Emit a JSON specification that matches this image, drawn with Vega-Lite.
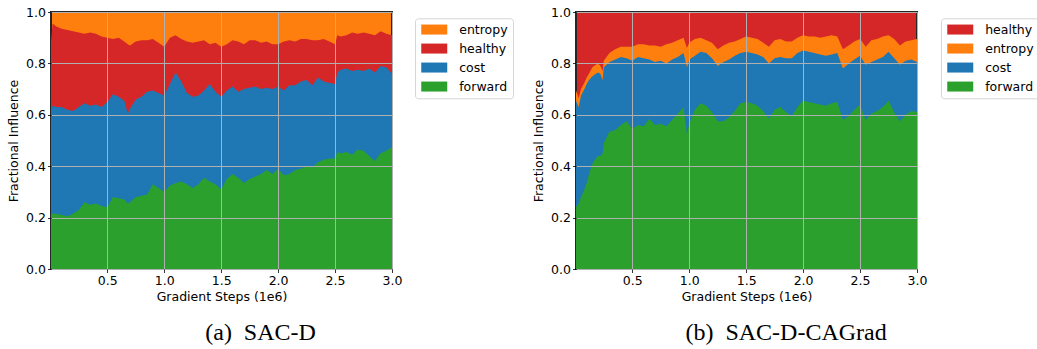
{
  "$schema": "https://vega.github.io/schema/vega-lite/v6.json",
  "padding": {"left": 6, "top": 5, "right": 0, "bottom": 0},
  "spacing": 16,
  "config": {
    "font": "DejaVu Sans",
    "axis": {"labelFont": "DejaVu Sans", "labelFontSize": 12.5, "labelColor": "#000", "titleFont": "DejaVu Sans", "titleFontSize": 12.5, "titleFontWeight": "normal", "titleColor": "#000", "tickColor": "#000", "tickSize": 3.5, "tickWidth": 0.8, "domain": false, "grid": true, "gridColor": "#b0b0b0", "gridWidth": 1, "labelFlush": false, "labelOverlap": false, "zindex": 1},
    "legend": {"padding": 5, "strokeColor": "#d5d5d5", "fillColor": "#ffffff", "cornerRadius": 3, "symbolSize": 100, "symbolStrokeWidth": 0, "symbolOpacity": 1, "labelFont": "DejaVu Sans", "labelFontSize": 12.5, "labelColor": "#000", "labelOffset": 26.7, "rowPadding": 6}
  },
  "resolve": {"scale": {"color": "independent", "x": "independent", "y": "independent"}, "legend": {"color": "independent"}},
  "datasets": {
    "a": [
      {"s": 0.006, "f": 0.21, "c": 0.62, "h": 0.885},
      {"s": 0.02, "f": 0.215, "c": 0.635, "h": 0.955},
      {"s": 0.05, "f": 0.215, "c": 0.63, "h": 0.945},
      {"s": 0.10, "f": 0.21, "c": 0.63, "h": 0.935},
      {"s": 0.15, "f": 0.205, "c": 0.62, "h": 0.93},
      {"s": 0.20, "f": 0.215, "c": 0.615, "h": 0.925},
      {"s": 0.25, "f": 0.23, "c": 0.63, "h": 0.92},
      {"s": 0.30, "f": 0.26, "c": 0.645, "h": 0.915},
      {"s": 0.35, "f": 0.25, "c": 0.635, "h": 0.92},
      {"s": 0.40, "f": 0.255, "c": 0.64, "h": 0.915},
      {"s": 0.45, "f": 0.245, "c": 0.63, "h": 0.905},
      {"s": 0.50, "f": 0.24, "c": 0.65, "h": 0.9},
      {"s": 0.55, "f": 0.28, "c": 0.68, "h": 0.895},
      {"s": 0.60, "f": 0.275, "c": 0.67, "h": 0.9},
      {"s": 0.65, "f": 0.27, "c": 0.655, "h": 0.885},
      {"s": 0.68, "f": 0.255, "c": 0.605, "h": 0.875},
      {"s": 0.70, "f": 0.26, "c": 0.625, "h": 0.87},
      {"s": 0.75, "f": 0.28, "c": 0.66, "h": 0.885},
      {"s": 0.80, "f": 0.285, "c": 0.67, "h": 0.89},
      {"s": 0.85, "f": 0.29, "c": 0.69, "h": 0.89},
      {"s": 0.90, "f": 0.33, "c": 0.695, "h": 0.895},
      {"s": 0.95, "f": 0.315, "c": 0.685, "h": 0.88},
      {"s": 1.00, "f": 0.30, "c": 0.675, "h": 0.865},
      {"s": 1.05, "f": 0.325, "c": 0.72, "h": 0.9},
      {"s": 1.10, "f": 0.335, "c": 0.765, "h": 0.91},
      {"s": 1.15, "f": 0.34, "c": 0.73, "h": 0.895},
      {"s": 1.20, "f": 0.33, "c": 0.685, "h": 0.885},
      {"s": 1.25, "f": 0.315, "c": 0.67, "h": 0.88},
      {"s": 1.30, "f": 0.33, "c": 0.675, "h": 0.885},
      {"s": 1.35, "f": 0.355, "c": 0.695, "h": 0.89},
      {"s": 1.40, "f": 0.34, "c": 0.72, "h": 0.875},
      {"s": 1.45, "f": 0.33, "c": 0.69, "h": 0.88},
      {"s": 1.50, "f": 0.31, "c": 0.67, "h": 0.865},
      {"s": 1.55, "f": 0.35, "c": 0.695, "h": 0.875},
      {"s": 1.60, "f": 0.37, "c": 0.71, "h": 0.89},
      {"s": 1.65, "f": 0.355, "c": 0.69, "h": 0.885},
      {"s": 1.70, "f": 0.335, "c": 0.70, "h": 0.875},
      {"s": 1.75, "f": 0.35, "c": 0.705, "h": 0.89},
      {"s": 1.80, "f": 0.36, "c": 0.71, "h": 0.89},
      {"s": 1.85, "f": 0.37, "c": 0.70, "h": 0.88},
      {"s": 1.90, "f": 0.385, "c": 0.705, "h": 0.885},
      {"s": 1.95, "f": 0.37, "c": 0.70, "h": 0.875},
      {"s": 2.00, "f": 0.39, "c": 0.71, "h": 0.875},
      {"s": 2.05, "f": 0.365, "c": 0.695, "h": 0.885},
      {"s": 2.10, "f": 0.37, "c": 0.715, "h": 0.89},
      {"s": 2.15, "f": 0.385, "c": 0.715, "h": 0.885},
      {"s": 2.20, "f": 0.39, "c": 0.73, "h": 0.895},
      {"s": 2.25, "f": 0.40, "c": 0.735, "h": 0.895},
      {"s": 2.30, "f": 0.395, "c": 0.715, "h": 0.89},
      {"s": 2.35, "f": 0.415, "c": 0.745, "h": 0.89},
      {"s": 2.40, "f": 0.425, "c": 0.73, "h": 0.895},
      {"s": 2.45, "f": 0.43, "c": 0.725, "h": 0.885},
      {"s": 2.50, "f": 0.43, "c": 0.72, "h": 0.875},
      {"s": 2.52, "f": 0.455, "c": 0.765, "h": 0.91},
      {"s": 2.55, "f": 0.45, "c": 0.775, "h": 0.905},
      {"s": 2.60, "f": 0.455, "c": 0.78, "h": 0.91},
      {"s": 2.65, "f": 0.445, "c": 0.77, "h": 0.92},
      {"s": 2.70, "f": 0.465, "c": 0.775, "h": 0.915},
      {"s": 2.75, "f": 0.46, "c": 0.77, "h": 0.92},
      {"s": 2.80, "f": 0.44, "c": 0.78, "h": 0.915},
      {"s": 2.85, "f": 0.42, "c": 0.765, "h": 0.91},
      {"s": 2.90, "f": 0.45, "c": 0.79, "h": 0.925},
      {"s": 2.95, "f": 0.46, "c": 0.785, "h": 0.915},
      {"s": 3.00, "f": 0.475, "c": 0.76, "h": 0.91}
    ],
    "b": [
      {"s": 0.006, "f": 0.24, "c": 0.655, "e": 0.695},
      {"s": 0.03, "f": 0.255, "c": 0.63, "e": 0.665},
      {"s": 0.05, "f": 0.28, "c": 0.675, "e": 0.70},
      {"s": 0.08, "f": 0.31, "c": 0.70, "e": 0.725},
      {"s": 0.10, "f": 0.335, "c": 0.72, "e": 0.745},
      {"s": 0.12, "f": 0.37, "c": 0.735, "e": 0.76},
      {"s": 0.15, "f": 0.41, "c": 0.75, "e": 0.785},
      {"s": 0.18, "f": 0.43, "c": 0.76, "e": 0.795},
      {"s": 0.20, "f": 0.44, "c": 0.765, "e": 0.80},
      {"s": 0.22, "f": 0.44, "c": 0.76, "e": 0.79},
      {"s": 0.24, "f": 0.45, "c": 0.735, "e": 0.77},
      {"s": 0.25, "f": 0.49, "c": 0.785, "e": 0.81},
      {"s": 0.30, "f": 0.535, "c": 0.805, "e": 0.84},
      {"s": 0.35, "f": 0.54, "c": 0.815, "e": 0.855},
      {"s": 0.40, "f": 0.56, "c": 0.825, "e": 0.865},
      {"s": 0.45, "f": 0.575, "c": 0.82, "e": 0.865},
      {"s": 0.50, "f": 0.545, "c": 0.81, "e": 0.865},
      {"s": 0.55, "f": 0.56, "c": 0.825, "e": 0.875},
      {"s": 0.60, "f": 0.555, "c": 0.82, "e": 0.875},
      {"s": 0.65, "f": 0.585, "c": 0.815, "e": 0.87},
      {"s": 0.70, "f": 0.56, "c": 0.805, "e": 0.87},
      {"s": 0.75, "f": 0.565, "c": 0.81, "e": 0.865},
      {"s": 0.80, "f": 0.555, "c": 0.80, "e": 0.875},
      {"s": 0.85, "f": 0.58, "c": 0.815, "e": 0.88},
      {"s": 0.90, "f": 0.605, "c": 0.825, "e": 0.89},
      {"s": 0.95, "f": 0.63, "c": 0.84, "e": 0.90},
      {"s": 0.98, "f": 0.525, "c": 0.785, "e": 0.86},
      {"s": 1.00, "f": 0.565, "c": 0.815, "e": 0.88},
      {"s": 1.05, "f": 0.62, "c": 0.83, "e": 0.895},
      {"s": 1.10, "f": 0.645, "c": 0.845, "e": 0.90},
      {"s": 1.15, "f": 0.635, "c": 0.84, "e": 0.89},
      {"s": 1.20, "f": 0.61, "c": 0.82, "e": 0.88},
      {"s": 1.25, "f": 0.575, "c": 0.79, "e": 0.855},
      {"s": 1.30, "f": 0.575, "c": 0.805, "e": 0.87},
      {"s": 1.35, "f": 0.59, "c": 0.815, "e": 0.88},
      {"s": 1.40, "f": 0.615, "c": 0.83, "e": 0.885},
      {"s": 1.45, "f": 0.645, "c": 0.84, "e": 0.895},
      {"s": 1.50, "f": 0.65, "c": 0.845, "e": 0.905},
      {"s": 1.55, "f": 0.645, "c": 0.84, "e": 0.90},
      {"s": 1.60, "f": 0.635, "c": 0.835, "e": 0.895},
      {"s": 1.65, "f": 0.615, "c": 0.825, "e": 0.88},
      {"s": 1.70, "f": 0.585, "c": 0.80, "e": 0.865},
      {"s": 1.75, "f": 0.62, "c": 0.82, "e": 0.89},
      {"s": 1.80, "f": 0.63, "c": 0.825, "e": 0.895},
      {"s": 1.85, "f": 0.61, "c": 0.82, "e": 0.885},
      {"s": 1.90, "f": 0.595, "c": 0.82, "e": 0.885},
      {"s": 1.95, "f": 0.63, "c": 0.84, "e": 0.90},
      {"s": 2.00, "f": 0.655, "c": 0.85, "e": 0.91},
      {"s": 2.05, "f": 0.65, "c": 0.845, "e": 0.905},
      {"s": 2.10, "f": 0.645, "c": 0.84, "e": 0.905},
      {"s": 2.15, "f": 0.64, "c": 0.835, "e": 0.90},
      {"s": 2.20, "f": 0.635, "c": 0.83, "e": 0.905},
      {"s": 2.25, "f": 0.645, "c": 0.835, "e": 0.91},
      {"s": 2.30, "f": 0.65, "c": 0.84, "e": 0.905},
      {"s": 2.35, "f": 0.58, "c": 0.78, "e": 0.855},
      {"s": 2.40, "f": 0.595, "c": 0.80, "e": 0.87},
      {"s": 2.45, "f": 0.62, "c": 0.815, "e": 0.885},
      {"s": 2.50, "f": 0.64, "c": 0.83, "e": 0.895},
      {"s": 2.55, "f": 0.58, "c": 0.795, "e": 0.865},
      {"s": 2.60, "f": 0.605, "c": 0.805, "e": 0.89},
      {"s": 2.65, "f": 0.615, "c": 0.815, "e": 0.895},
      {"s": 2.70, "f": 0.63, "c": 0.825, "e": 0.905},
      {"s": 2.75, "f": 0.655, "c": 0.845, "e": 0.91},
      {"s": 2.80, "f": 0.61, "c": 0.82, "e": 0.895},
      {"s": 2.85, "f": 0.575, "c": 0.795, "e": 0.87},
      {"s": 2.90, "f": 0.60, "c": 0.81, "e": 0.885},
      {"s": 2.95, "f": 0.615, "c": 0.815, "e": 0.89},
      {"s": 3.00, "f": 0.61, "c": 0.805, "e": 0.895}
    ]
  },
  "hconcat": [
    {
      "width": 341,
      "height": 257,
      "data": {"name": "a"},
      "view": {"fill": "#ff7f0e", "stroke": "#262626", "strokeWidth": 2},
      "title": {"text": "(a)\u2002SAC-D", "orient": "bottom", "anchor": "middle", "frame": "bounds", "font": "Liberation Serif", "fontSize": 24, "fontWeight": "normal", "color": "#000", "offset": 18},
      "encoding": {
        "x": {"field": "s", "type": "quantitative", "scale": {"domain": [0.006, 3], "nice": false, "zero": false}, "axis": {"values": [0.5, 1, 1.5, 2, 2.5, 3], "format": ".1f", "title": "Gradient Steps (1e6)", "labelPadding": 2, "titlePadding": 3, "zindex": 1, "gridColor": "#b0b0b0"}}
      },
      "layer": [
        {"mark": {"type": "area", "interpolate": "linear"}, "encoding": {
          "y": {"field": "h", "type": "quantitative", "stack": null, "scale": {"domain": [0, 1], "nice": false}, "axis": {"values": [0, 0.2, 0.4, 0.6, 0.8, 1], "format": ".1f", "title": "Fractional Influence", "labelPadding": 2, "titlePadding": 5, "zindex": 1, "gridColor": "#b0b0b0"}},
          "color": {"datum": "healthy", "type": "nominal", "scale": {"domain": ["entropy", "healthy", "cost", "forward"], "range": ["#ff7f0e", "#d62728", "#1f77b4", "#2ca02c"]}, "legend": {"title": null, "orient": "none", "legendX": 364, "legendY": 6.3, "symbolType": "M-1,-1L4.2,-1L4.2,1L-1,1Z"}}
        }},
        {"mark": {"type": "area", "interpolate": "linear"}, "encoding": {"y": {"field": "c", "type": "quantitative", "stack": null}, "color": {"datum": "cost", "type": "nominal"}}},
        {"mark": {"type": "area", "interpolate": "linear"}, "encoding": {"y": {"field": "f", "type": "quantitative", "stack": null}, "color": {"datum": "forward", "type": "nominal"}}}
      ]
    },
    {
      "width": 341,
      "height": 257,
      "data": {"name": "b"},
      "view": {"fill": "#d62728", "stroke": "#262626", "strokeWidth": 2},
      "title": {"text": "(b)\u2002SAC-D-CAGrad", "orient": "bottom", "anchor": "middle", "frame": "bounds", "font": "Liberation Serif", "fontSize": 24, "fontWeight": "normal", "color": "#000", "offset": 18},
      "encoding": {
        "x": {"field": "s", "type": "quantitative", "scale": {"domain": [0.006, 3], "nice": false, "zero": false}, "axis": {"values": [0.5, 1, 1.5, 2, 2.5, 3], "format": ".1f", "title": "Gradient Steps (1e6)", "labelPadding": 2, "titlePadding": 3, "zindex": 1, "gridColor": "#b0b0b0"}}
      },
      "layer": [
        {"mark": {"type": "area", "interpolate": "linear"}, "encoding": {
          "y": {"field": "e", "type": "quantitative", "stack": null, "scale": {"domain": [0, 1], "nice": false}, "axis": {"values": [0, 0.2, 0.4, 0.6, 0.8, 1], "format": ".1f", "title": "Fractional Influence", "labelPadding": 2, "titlePadding": 5, "zindex": 1, "gridColor": "#b0b0b0"}},
          "color": {"datum": "entropy", "type": "nominal", "scale": {"domain": ["healthy", "entropy", "cost", "forward"], "range": ["#d62728", "#ff7f0e", "#1f77b4", "#2ca02c"]}, "legend": {"title": null, "orient": "none", "legendX": 365, "legendY": 6.3, "symbolType": "M-1,-1L4.2,-1L4.2,1L-1,1Z"}}
        }},
        {"mark": {"type": "area", "interpolate": "linear"}, "encoding": {"y": {"field": "c", "type": "quantitative", "stack": null}, "color": {"datum": "cost", "type": "nominal"}}},
        {"mark": {"type": "area", "interpolate": "linear"}, "encoding": {"y": {"field": "f", "type": "quantitative", "stack": null}, "color": {"datum": "forward", "type": "nominal"}}}
      ]
    }
  ]
}
